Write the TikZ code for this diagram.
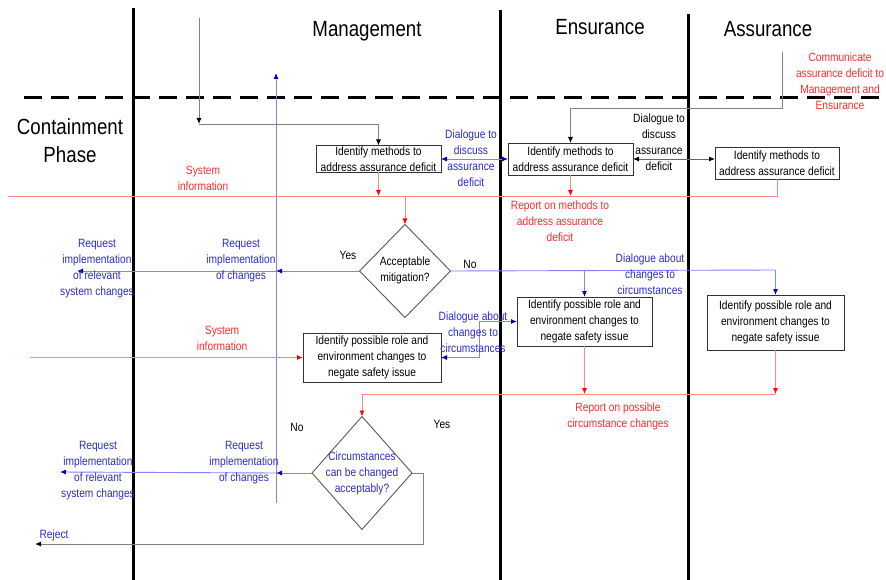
\documentclass[tikz,border=0pt]{standalone}
\usepackage{fontspec}
\setmainfont{Liberation Sans}[FakeStretch=0.85]
\usetikzlibrary{arrows.meta,shapes.geometric}
\definecolor{btxt}{RGB}{45,45,200}
\definecolor{blin}{RGB}{130,130,255}
\definecolor{bhead}{RGB}{0,0,190}
\definecolor{rtxt}{RGB}{255,45,45}
\definecolor{rlin}{RGB}{255,135,135}
\definecolor{rhead}{RGB}{255,0,0}
\definecolor{glin}{RGB}{130,130,130}
\begin{document}
\begin{tikzpicture}[x=1pt,y=-1pt,
  every node/.style={inner sep=0pt,outer sep=0pt},
  lbl/.style={align=center,font=\fontsize{12}{16}\selectfont},
  title/.style={align=center,font=\fontsize{22}{28}\selectfont},
  procbox/.style={draw=black!80,fill=white,line width=0.9pt,align=center,font=\fontsize{12}{16}\selectfont},
  decision/.style={shape=diamond,draw=black!65,fill=white,line width=0.9pt},
  lane/.style={line width=3pt,black},
  barrow/.style={draw=blin,line width=0.9pt,-{Latex[length=6pt,width=5pt,color=bhead]}},
  bdbl/.style={draw=blin,line width=0.9pt,{Latex[length=6pt,width=5pt,color=bhead]}-{Latex[length=6pt,width=5pt,color=bhead]}},
  bplain/.style={draw=blin,line width=0.9pt},
  rarrow/.style={draw=rlin,line width=0.9pt,-{Latex[length=6pt,width=5pt,color=rhead]}},
  rplain/.style={draw=rlin,line width=0.9pt},
  garrow/.style={draw=glin,line width=0.9pt,-{Latex[length=6pt,width=5pt,color=black]}},
  gdbl/.style={draw=black!60,line width=0.9pt,{Latex[length=6pt,width=5pt,color=black]}-{Latex[length=6pt,width=5pt,color=black]}}
]
\useasboundingbox (0,0) rectangle (886,580);
\fill[white] (0,0) rectangle (886,580);

% swimlanes
\draw[lane] (133,8) -- (133,580);
\draw[lane] (500,10) -- (500,580);
\draw[lane] (688,14) -- (688,580);
\draw[line width=3pt,dash pattern=on 18pt off 9pt] (24,98) -- (883,98);

% titles
\node[title] (tMan) at (367,31) {Management};
\node[title] (tEns) at (600,27) {Ensurance};
\node[title] (tAss) at (768,29) {Assurance};
\node[title] (tCon) at (70,141) {Containment\\Phase};

% boxes
\node[procbox,minimum width=125pt,minimum height=27pt] (M1) at (378.5,159) {Identify methods to\\address assurance deficit};
\node[procbox,minimum width=125pt,minimum height=32pt] (E1) at (570.5,159) {Identify methods to\\address assurance deficit};
\node[procbox,minimum width=124pt,minimum height=32pt] (A1) at (777,163) {Identify methods to\\address assurance deficit};
\node[procbox,minimum width=138pt,minimum height=49pt] (M2) at (372,357.5) {Identify possible role and\\environment changes to\\negate safety issue};
\node[procbox,minimum width=135pt,minimum height=49pt] (E2) at (584.5,321.5) {Identify possible role and\\environment changes to\\negate safety issue};
\node[procbox,minimum width=137pt,minimum height=55pt] (A2) at (775.5,322.5) {Identify possible role and\\environment changes to\\negate safety issue};
\node[decision,minimum width=91pt,minimum height=93pt] (D1) at (405,271) {};
\node[lbl] (D1t) at (405,270) {Acceptable\\mitigation?};
\node[decision,minimum width=100pt,minimum height=113pt] (D2) at (362,473) {};
\node[lbl,text=btxt] (D2t) at (362,473) {Circumstances\\can be changed\\acceptably?};

% coordinates
\coordinate (gTop) at (199,18);
\coordinate (gCorner) at (199,124);
\coordinate (aTop) at (782,52);
\coordinate (aCorner) at (782,108);
\coordinate (sysL) at (8,196);
\coordinate (m1j) at (378.5,196);
\coordinate (bv1) at (276,271);
\coordinate (req1) at (77,271);
\coordinate (dlgR) at (775.5,270);
\coordinate (bvB) at (276,503);
\coordinate (bvT) at (276,73);
\coordinate (sys2L) at (30,357.5);
\coordinate (a2j) at (775.5,394);
\coordinate (bv2) at (276,473);
\coordinate (req2) at (60,472);
\coordinate (rejL) at (35,544);

% connectors
\draw[barrow] (bvB) -- (bvT);
\draw[garrow] (gTop) -- (gCorner);
\draw[garrow] (gCorner) -| (M1.north);
\draw[garrow] (aTop) -- (aCorner) -| (E1.north);
\draw[bdbl] (M1.east) -- (E1.west);
\draw[gdbl] (E1.east) -- (E1.east -| A1.west);
\draw[rplain] (A1.south) |- (sysL);
\draw[rarrow] (M1.south) -- (m1j);
\draw[rarrow] (m1j) -| (D1.north);
\draw[rarrow] (E1.south) -- (E1.south |- sysL);
\draw[barrow] (D1.west) -- (bv1);
\draw[barrow] (bv1) -- (req1);
\draw[bplain] (D1.east) -- (dlgR);
\draw[barrow] (E2.north |- dlgR) -- (E2.north);
\draw[barrow] (dlgR) -- (A2.north);
\draw[rarrow] (sys2L) -- (M2.west);
\draw[bdbl] (M2.east) -- ++(38,0) |- (E2.west);
\draw[rarrow] (E2.south) -- (E2.south |- a2j);
\draw[rarrow] (A2.south) -- (a2j);
\draw[rarrow] (a2j) -| (D2.north);
\draw[barrow] (D2.west) -- (bv2);
\draw[barrow] (bv2) -- (req2);
\draw[garrow] (D2.east) -- ++(11,0) |- (rejL);

% labels
\node[lbl,text=rtxt] (lSys1) at (203,178) {System\\information};
\node[lbl,text=rtxt] (lComm) at (840,81) {Communicate\\assurance deficit to\\Management and\\Ensurance};
\node[lbl,text=btxt] (lDlg1) at (471,158.5) {Dialogue to\\discuss\\assurance\\deficit};
\node[lbl] (lDlg2) at (659,142.5) {Dialogue to\\discuss\\assurance\\deficit};
\node[lbl,text=rtxt] (lRep1) at (560,221) {Report on methods to\\address assurance\\deficit};
\node[lbl] (lYes1) at (348,255) {Yes};
\node[lbl] (lNo1) at (470,264) {No};
\node[lbl,text=btxt] (lReq1) at (241,260.5) {Request\\implementation\\of changes};
\node[lbl,text=btxt] (lReqS1) at (97,268.5) {Request\\implementation\\of relevant\\system changes};
\node[lbl,text=btxt] (lDlg3) at (650,274) {Dialogue about\\changes to\\circumstances};
\node[lbl,text=rtxt] (lSys2) at (222,338) {System\\information};
\node[lbl,text=btxt] (lDlg4) at (473,332) {Dialogue about\\changes to\\circumstances};
\node[lbl,text=rtxt] (lRep2) at (618,416) {Report on possible\\circumstance changes};
\node[lbl] (lNo2) at (297,427) {No};
\node[lbl] (lYes2) at (442,424) {Yes};
\node[lbl,text=btxt] (lReq2) at (244,463) {Request\\implementation\\of changes};
\node[lbl,text=btxt] (lReqS2) at (98,471) {Request\\implementation\\of relevant\\system changes};
\node[lbl,text=btxt] (lRej) at (54,535) {Reject};
\end{tikzpicture}
\end{document}
